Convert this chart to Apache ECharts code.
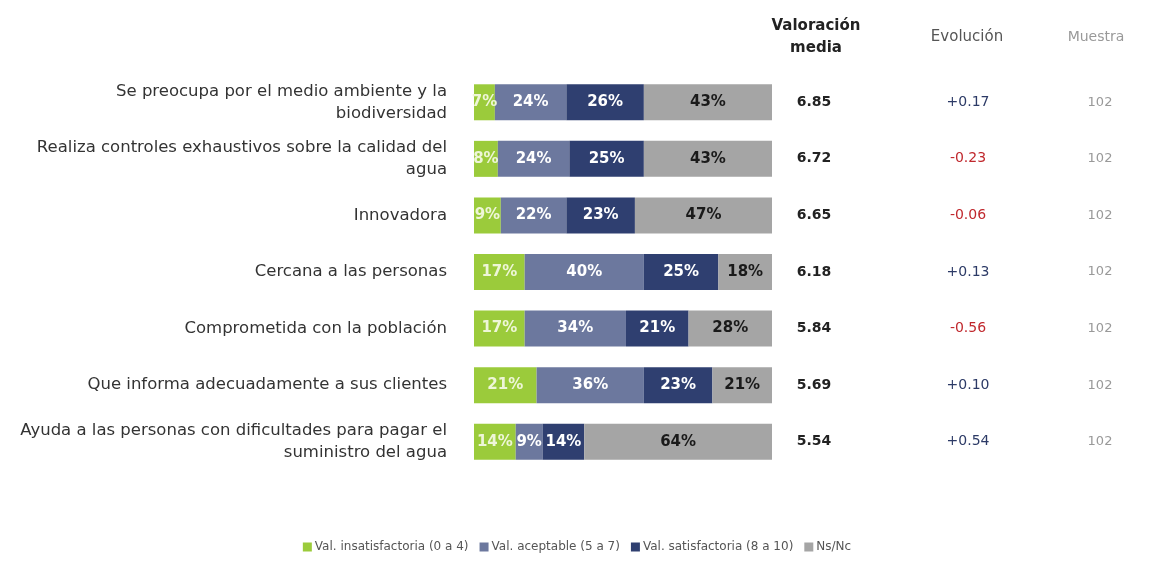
<!DOCTYPE html>
<html>
<head>
<meta charset="utf-8">
<script src="https://cdn.jsdelivr.net/npm/echarts@6/dist/echarts.min.js"></script>
<style>
  html, body { margin: 0; padding: 0; background: #fff; }
  #chart { width: 1154px; height: 573px; }
</style>
</head>
<body>
<div id="chart"></div>
<script>
// Atributos valorados (una fila por atributo)
const categories = [
  'Se preocupa por el medio ambiente y la\nbiodiversidad',
  'Realiza controles exhaustivos sobre la calidad del\nagua',
  'Innovadora',
  'Cercana a las personas',
  'Comprometida con la población',
  'Que informa adecuadamente a sus clientes',
  'Ayuda a las personas con dificultades para pagar el\nsuministro del agua'
];

// Reparto de respuestas (%)
const insatisfactoria = [7, 8, 9, 17, 17, 21, 14];
const aceptable       = [24, 24, 22, 40, 34, 36, 9];
const satisfactoria   = [26, 25, 23, 25, 21, 23, 14];
const nsnc            = [43, 43, 47, 18, 28, 21, 64];

// Columnas de la derecha
const valoracionMedia = [6.85, 6.72, 6.65, 6.18, 5.84, 5.69, 5.54];
const evolucion       = [0.17, -0.23, -0.06, 0.13, -0.56, 0.10, 0.54];
const muestra         = [102, 102, 102, 102, 102, 102, 102];

const seriesNames = [
  'Val. insatisfactoria (0 a 4)',
  'Val. aceptable (5 a 7)',
  'Val. satisfactoria (8 a 10)',
  'Ns/Nc'
];
const colors = ['#9bcb3b', '#6c789e', '#2f3f70', '#a5a5a5'];
const labelColors = ['#eef6d8', '#ffffff', '#ffffff', '#1a1a1a'];
const FONT = 'DejaVu Sans, Verdana, sans-serif';

const chart = echarts.init(document.getElementById('chart'));

function barSeries(name, data, i) {
  return {
    name: name,
    type: 'bar',
    stack: 'total',
    barWidth: 36,
    data: data,
    itemStyle: { color: colors[i] },
    label: {
      show: true,
      position: 'inside',
      formatter: '{c}%',
      color: labelColors[i],
      fontFamily: FONT,
      fontWeight: 'bold',
      fontSize: 15
    },
    emphasis: { disabled: true }
  };
}

const evoLabels = evolucion.map(v => (v >= 0 ? '+' : '') + v.toFixed(2));

chart.setOption({
  animation: false,
  textStyle: { fontFamily: FONT },
  title: [
    { text: 'Valoración\nmedia', left: 811, top: 10, textAlign: 'center',
      textStyle: { fontFamily: FONT, fontSize: 15, fontWeight: 'bold', color: '#222', lineHeight: 22, align: 'center' } },
    { text: 'Evolución', left: 962, top: 25, textAlign: 'center',
      textStyle: { fontFamily: FONT, fontSize: 15, fontWeight: 'normal', color: '#555' } },
    { text: 'Muestra', left: 1091, top: 25, textAlign: 'center',
      textStyle: { fontFamily: FONT, fontSize: 14, fontWeight: 'normal', color: '#999' } }
  ],
  legend: {
    bottom: 15,
    left: 'center',
    icon: 'rect',
    itemWidth: 9,
    itemHeight: 9,
    itemGap: 11,
    textStyle: { fontFamily: FONT, fontSize: 12, color: '#555', padding: [0, 0, 0, -2] },
    data: seriesNames
  },
  grid: { left: 474, right: 382, top: 74, bottom: 103 },
  xAxis: {
    type: 'value', min: 0, max: 100,
    show: false
  },
  yAxis: [
    {
      type: 'category', inverse: true, data: categories,
      axisLine: { show: false }, axisTick: { show: false },
      axisLabel: { fontFamily: FONT, fontSize: 16.5, color: '#333', margin: 27, lineHeight: 22, align: 'right' }
    },
    {
      type: 'category', inverse: true, position: 'right', offset: 42,
      data: valoracionMedia.map(v => v.toFixed(2)),
      axisLine: { show: false }, axisTick: { show: false },
      axisLabel: { margin: 0, align: 'center', fontFamily: FONT, fontSize: 14, fontWeight: 'bold', color: '#222' }
    },
    {
      type: 'category', inverse: true, position: 'right', offset: 196,
      data: evoLabels,
      axisLine: { show: false }, axisTick: { show: false },
      axisLabel: {
        margin: 0, align: 'center', fontFamily: FONT, fontSize: 14,
        formatter: v => (v.charAt(0) === '-' ? '{neg|' + v + '}' : '{pos|' + v + '}'),
        rich: {
          pos: { color: '#2c3a66', fontFamily: FONT, fontSize: 14 },
          neg: { color: '#c0282d', fontFamily: FONT, fontSize: 14 }
        }
      }
    },
    {
      type: 'category', inverse: true, position: 'right', offset: 328,
      data: muestra.map(String),
      axisLine: { show: false }, axisTick: { show: false },
      axisLabel: { margin: 0, align: 'center', fontFamily: FONT, fontSize: 13, color: '#999' }
    }
  ],
  series: [
    barSeries(seriesNames[0], insatisfactoria, 0),
    barSeries(seriesNames[1], aceptable, 1),
    barSeries(seriesNames[2], satisfactoria, 2),
    barSeries(seriesNames[3], nsnc, 3)
  ]
});
</script>
</body>
</html>
